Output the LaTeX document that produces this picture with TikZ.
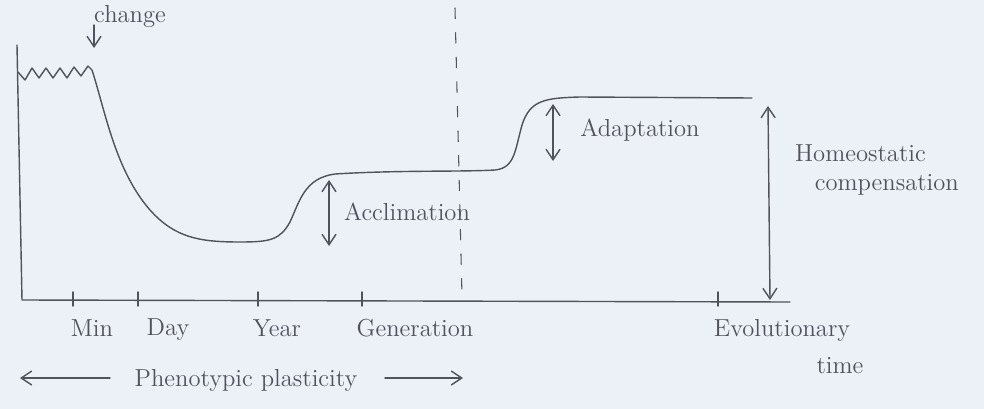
\documentclass[tikz,border=0pt]{standalone}
\usetikzlibrary{arrows.meta}
\definecolor{paper}{RGB}{236,240,247}
\definecolor{pencil}{RGB}{80,82,92}
\begin{document}
\begin{tikzpicture}[x=0.02cm,y=-0.02cm,
  pen/.style={draw=pencil,line width=0.8pt,line cap=round,line join=round},
  dbl/.style={pen,{Straight Barb[length=6pt,width=8pt]}-{Straight Barb[length=6pt,width=8pt]}},
  sgl/.style={pen,-{Straight Barb[length=6pt,width=8pt]}},
  lbl/.style={text=pencil,font=\fontsize{14}{16}\selectfont,inner sep=1pt}]
\fill[paper] (0,0) rectangle (984,409);
\useasboundingbox (0,0) rectangle (984,409);
% axes
\coordinate (o) at (22,300);
\coordinate (ytop) at (17,45);
\coordinate (xend) at (790,302);
\draw[pen] (ytop) -- (o) -- (xend);
% ticks
\foreach \n/\x in {min/73,day/138,year/258,gen/362,evo/718}{
  \coordinate (t\n) at (\x,300);
  \draw[pen] (\x,292) -- (\x,306);
}
\node[lbl] (lmin) at (92,328) {Min};
\node[lbl] (lday) at (168,330) {Day};
\node[lbl] (lyear) at (277,328) {Year};
\node[lbl] (lgen) at (415,328) {Generation};
\node[lbl] (levo) at (782,330) {Evolutionary};
\node[lbl] (ltime) at (840,366) {time};
% phenotypic plasticity
\node[lbl] (lpp) at (246,380) {Phenotypic plasticity};
\coordinate (ppl) at (20,378);
\coordinate (ppls) at (110,378);
\coordinate (pprs) at (385,378);
\coordinate (ppr) at (463,378);
\draw[sgl] (ppls) -- (ppl);
\draw[sgl] (pprs) -- (ppr);
% dashed line
\coordinate (dtop) at (455,8);
\coordinate (dbot) at (462,296);
\draw[pen,line width=0.6pt,dash pattern=on 6pt off 8pt] (dtop) -- (dbot);
% change
\node[lbl] (lch) at (130,16) {change};
\coordinate (cha) at (94,25);
\coordinate (chb) at (94,48);
\draw[sgl] (cha) -- (chb);
% curve
\draw[pen] (18,72) -- (25,80) -- (32,68) -- (39,78) -- (46,68) -- (53,78) -- (60,68) -- (67,78) -- (74,67) -- (81,76) -- (88,66) -- (92,70)
  .. controls (105,110) and (115,170) .. (150,210)
  .. controls (175,238) and (200,242) .. (240,242)
  .. controls (270,242) and (280,240) .. (290,222)
  .. controls (300,200) and (305,178) .. (335,174)
  .. controls (400,170) and (460,172) .. (495,170)
  .. controls (515,168) and (515,150) .. (522,125)
  .. controls (530,100) and (545,98) .. (580,97)
  -- (752,98);
% acclimation
\coordinate (aca) at (329,180);
\coordinate (acb) at (329,246);
\draw[dbl] (aca) -- (acb);
\node[lbl] (lac) at (407,212) {Acclimation};
% adaptation
\coordinate (ada) at (553,104);
\coordinate (adb) at (553,161);
\draw[dbl] (ada) -- (adb);
\node[lbl] (lad) at (640,130) {Adaptation};
% homeostatic compensation
\coordinate (hca) at (768,106);
\coordinate (hcb) at (770,300);
\draw[dbl] (hca) -- (hcb);
\node[lbl,align=left] (lhc) at (877,170) {Homeostatic\\\hspace{0.8em}compensation};
\end{tikzpicture}
\end{document}
